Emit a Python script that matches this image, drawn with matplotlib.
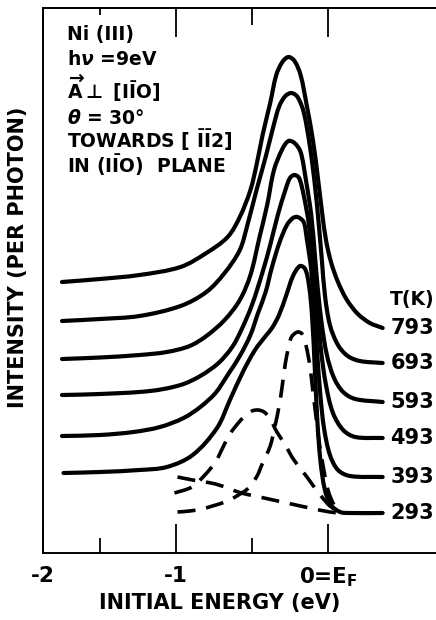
import matplotlib
matplotlib.use('Agg')
import matplotlib.pyplot as plt
import numpy as np
from matplotlib.path import Path
from matplotlib.patches import PathPatch

plt.rcParams['font.family'] = ['DejaVu Sans']
plt.rcParams['font.weight'] = 'bold'
plt.rcParams['mathtext.fontset'] = 'dejavusans'

# ---- data (energy in eV, intensity in arbitrary units) ----
temps = ['793', '693', '593', '493', '393', '293']

e_793 = [-1.75, -1.50, -1.24, -0.97, -0.80, -0.66, -0.58, -0.51, -0.47, -0.43, -0.38, -0.34, -0.30, -0.26,
         -0.22, -0.18, -0.14, -0.099, -0.066, -0.039, -0.013, 0.020, 0.066, 0.125, 0.197, 0.276, 0.36]
i_793 = [27.1, 27.4, 27.8, 28.6, 30.0, 31.6, 33.6, 36.3, 38.8, 41.8, 45.0, 47.8, 49.1, 49.6,
         49.2, 47.8, 44.8, 41.3, 37.5, 34.1, 31.3, 29.1, 27.1, 25.3, 23.9, 23.0, 22.5]

e_693 = [-1.75, -1.50, -1.24, -0.97, -0.80, -0.68, -0.58, -0.53, -0.47, -0.41, -0.36, -0.32, -0.28, -0.24,
         -0.20, -0.16, -0.12, -0.086, -0.06, -0.04, -0.02, 0.013, 0.066, 0.13, 0.21, 0.36]
i_693 = [23.2, 23.4, 23.7, 24.7, 26.1, 28.0, 30.3, 32.8, 36.3, 39.6, 42.6, 44.7, 45.7, 46.0,
         45.6, 44.1, 40.8, 36.8, 32.8, 29.3, 25.8, 22.8, 20.8, 19.7, 19.2, 19.0]

e_593 = [-1.75, -1.50, -1.24, -1.06, -0.91, -0.80, -0.68, -0.58, -0.51, -0.45, -0.40, -0.355, -0.30, -0.26,
         -0.22, -0.18, -0.145, -0.11, -0.086, -0.066, -0.04, -0.007, 0.04, 0.10, 0.18, 0.36]
i_593 = [19.4, 19.55, 19.8, 20.1, 20.7, 21.7, 23.3, 25.3, 27.8, 31.6, 34.8, 38.3, 40.4, 41.2,
         41.0, 40.1, 37.3, 33.8, 29.8, 26.3, 22.8, 19.8, 17.5, 16.1, 15.4, 15.1]

e_493 = [-1.75, -1.50, -1.17, -0.97, -0.84, -0.72, -0.63, -0.57, -0.50, -0.43, -0.38, -0.33, -0.28, -0.25,
         -0.22, -0.19, -0.16, -0.125, -0.10, -0.07, -0.046, -0.013, 0.033, 0.10, 0.18, 0.36]
i_493 = [15.8, 15.9, 16.2, 16.8, 17.7, 19.0, 20.6, 22.3, 24.8, 28.1, 30.8, 33.8, 36.3, 37.5,
         37.8, 37.5, 35.8, 32.8, 28.8, 24.3, 20.3, 16.8, 14.0, 12.3, 11.6, 11.5]

e_393 = [-1.75, -1.50, -1.28, -1.105, -0.95, -0.84, -0.74, -0.66, -0.58, -0.51, -0.46, -0.41, -0.37, -0.32,
         -0.27, -0.23, -0.20, -0.16, -0.14, -0.11, -0.09, -0.07, -0.05, -0.026, 0.013, 0.066, 0.145, 0.36]
i_393 = [11.7, 11.8, 12.1, 12.6, 13.5, 14.6, 16.0, 17.8, 19.7, 21.8, 24.0, 26.1, 28.5, 31.0,
         32.8, 33.5, 33.6, 33.1, 31.5, 28.3, 24.3, 19.8, 15.8, 12.5, 9.8, 8.3, 7.7, 7.6]

e_293 = [-1.74, -1.50, -1.24, -1.06, -0.89, -0.73, -0.645, -0.56, -0.48, -0.41, -0.368, -0.322, -0.276,
         -0.23, -0.184, -0.15, -0.125, -0.105, -0.086, -0.07, -0.05, -0.02, 0.02, 0.08, 0.145, 0.36]
i_293 = [8.0, 8.1, 8.3, 8.6, 9.8, 12.5, 15.3, 18.1, 20.3, 21.7, 22.5, 23.8, 25.7,
         27.7, 28.7, 28.4, 26.8, 23.8, 18.3, 13.3, 9.3, 6.3, 4.8, 4.1, 4.0, 4.0]

# dashed decomposition curves
e_tail = [-0.99, -0.89, -0.74, -0.645, -0.57, -0.48, -0.36, -0.27, -0.12, 0.013, 0.08]
i_tail = [7.6, 7.3, 6.9, 6.4, 6.0, 5.7, 5.3, 5.0, 4.5, 4.1, 4.0]

e_broad = [-1.01, -0.895, -0.81, -0.74, -0.69, -0.645, -0.59, -0.546, -0.50, -0.46, -0.42, -0.38, -0.336,
           -0.28, -0.237, -0.184, -0.138, -0.086, -0.04, 0.013, 0.08]
i_broad = [6.0, 6.6, 7.8, 9.1, 10.6, 11.9, 13.0, 13.7, 14.2, 14.3, 14.1, 13.4, 12.1,
           10.8, 9.6, 8.5, 7.6, 6.5, 5.6, 4.7, 4.0]

e_narrow = [-0.99, -0.91, -0.83, -0.76, -0.66, -0.60, -0.53, -0.47, -0.43, -0.38, -0.35, -0.32, -0.30, -0.28,
            -0.26, -0.24, -0.20, -0.17, -0.145, -0.12, -0.10, -0.08, -0.06, -0.033, 0.0, 0.04, 0.08]
i_narrow = [4.1, 4.2, 4.4, 4.7, 5.2, 5.7, 6.4, 7.6, 9.0, 10.7, 12.6, 14.8, 16.8, 19.0,
            20.5, 21.6, 22.1, 21.9, 20.8, 18.8, 16.3, 13.8, 11.3, 8.8, 6.3, 4.8, 4.0]

xtick_pos = [-1.875, -1.0, 0.0]
xtick_labels = ['-2', '-1', r'0=E$_\mathbf{F}$']
xminor_pos = [-1.5, -0.5]

solid_e = [e_793, e_693, e_593, e_493, e_393, e_293]
solid_i = [i_793, i_693, i_593, i_493, i_393, i_293]

# ---- figure ----
fig = plt.figure(figsize=(4.36, 6.2), dpi=100)
ax = fig.add_axes([43 / 436, 67 / 620, 393 / 436, 545 / 620])
ax.set_xlim(-1.875, 0.711)
ax.set_ylim(0, 54.5)


def smooth_curve(ax, e, i, **kw):
    """Draw a smooth Bezier curve through the read points (chord-length Hermite)."""
    P = ax.transData.transform(np.column_stack([e, i]))
    n = len(P)
    d = np.hypot(*np.diff(P, axis=0).T)
    T = np.zeros_like(P)
    T[0] = (P[1] - P[0]) / d[0]
    T[-1] = (P[-1] - P[-2]) / d[-1]
    for k in range(1, n - 1):
        T[k] = (P[k + 1] - P[k - 1]) / (d[k - 1] + d[k])
    verts = [P[0]]
    codes = [Path.MOVETO]
    for k in range(n - 1):
        verts += [P[k] + T[k] * d[k] / 3, P[k + 1] - T[k + 1] * d[k] / 3, P[k + 1]]
        codes += [Path.CURVE4] * 3
    verts = ax.transData.inverted().transform(np.array(verts))
    patch = PathPatch(Path(verts, codes), fill=False, transform=ax.transData, **kw)
    ax.add_patch(patch)


for e, i in zip(solid_e, solid_i):
    smooth_curve(ax, e, i, edgecolor='black', lw=3.0, capstyle='round', joinstyle='round')

for e, i in [(e_tail, i_tail), (e_broad, i_broad), (e_narrow, i_narrow)]:
    smooth_curve(ax, e, i, edgecolor='black', lw=2.6, linestyle=(0, (5.0, 3.0)), capstyle='butt')

# temperature labels
ax.text(0.405, 25.3, 'T(K)', fontsize=13.5, ha='left', va='center')
for t, i in zip(temps, solid_i):
    ax.text(0.41, i[-1], t, fontsize=15, ha='left', va='center')

# annotation block
lines = [
    'Ni (III)',
    r'h$\nu$ =9eV',
    r'$\overrightarrow{\mathbf{A}}\bot$ [I$\bar{\mathbf{I}}$O]',
    r'$\theta$ = 30°',
    r'TOWARDS [ $\bar{\mathbf{I}}\bar{\mathbf{I}}$2]',
    r'IN (I$\bar{\mathbf{I}}$O)  PLANE',
]
baselines = [0.941, 0.895, 0.833, 0.787, 0.743, 0.697]
for s, yb in zip(lines, baselines):
    ax.text(0.061, yb, s, transform=ax.transAxes, fontsize=13.5, ha='left', va='baseline')

ax.set_yticks([])
ax.set_xticks(xtick_pos)
ax.set_xticklabels(xtick_labels, fontsize=15.5)
ax.set_xticks(xminor_pos, minor=True)
ax.tick_params(axis='x', which='major', direction='in', length=21, width=1.3, top=True, pad=9)
ax.tick_params(axis='x', which='minor', direction='in', length=11, width=1.3, top=True)
mt = ax.xaxis.get_minor_ticks()
mt[0].tick2line.set_markersize(5)
mt[1].tick2line.set_markersize(12)

ax.spines['right'].set_visible(False)
for s in ['left', 'top', 'bottom']:
    ax.spines[s].set_linewidth(1.4)

ax.set_xlabel('INITIAL ENERGY (eV)', fontsize=15, fontweight='bold', va='center')
ax.xaxis.set_label_coords(0.45, -0.092)
ax.set_ylabel('INTENSITY (PER PHOTON)', fontsize=15, fontweight='bold', va='center')
ax.yaxis.set_label_coords(-0.064, 0.543)

fig.savefig('out.png', dpi=100)
